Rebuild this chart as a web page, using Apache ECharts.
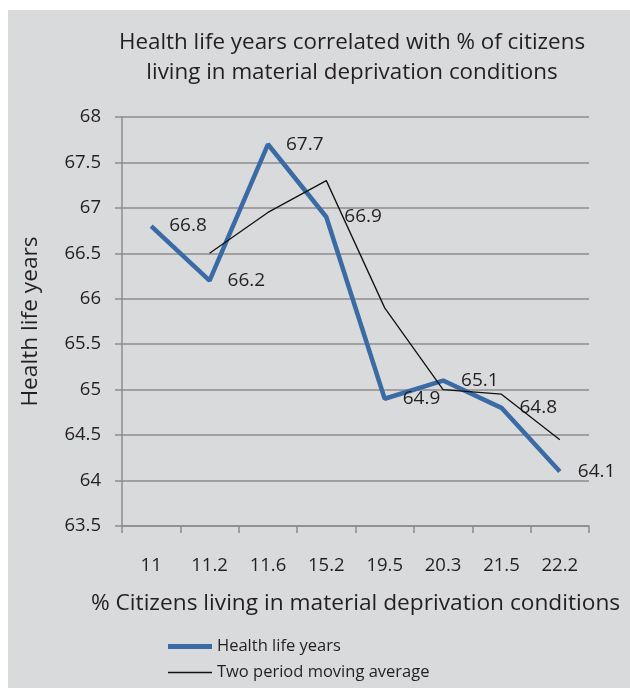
<!DOCTYPE html>
<html>
<head>
<meta charset="utf-8">
<script src="https://cdn.jsdelivr.net/npm/echarts@6/dist/echarts.min.js"></script>
<style>
html,body{margin:0;padding:0;background:#fff;}
#c{position:absolute;left:8px;top:10px;width:622px;height:678px;background:#d9dadc;}
</style>
</head>
<body>
<div id="c"></div>
<script>
var categories = ['11','11.2','11.6','15.2','19.5','20.3','21.5','22.2'];
var healthLifeYears = [66.8,66.2,67.7,66.9,64.9,65.1,64.8,64.1];
var movingAverage = ['-',66.5,66.95,67.3,65.9,65.0,64.95,64.45];
var FONT = 'Open Sans';
var chart = echarts.init(document.getElementById('c'));
chart.setOption({
  animation:false,
  backgroundColor:'#d9dadc',
  textStyle:{fontFamily:FONT},
  title:{
    text:'Health life years correlated with % of citizens\nliving in material deprivation conditions',
    left:339, top:13, textAlign:'center',
    textStyle:{fontFamily:FONT,fontSize:22.4,fontWeight:'normal',color:'#231f20',lineHeight:30}
  },
  legend:[{
    left:155, top:623, orient:'vertical', icon:'rect', itemWidth:44, itemHeight:5,
    data:['Health life years'],
    textStyle:{fontFamily:FONT,fontSize:16.5,color:'#231f20'}
  },{
    left:155, top:649, orient:'vertical', icon:'rect', itemWidth:44, itemHeight:1.5,
    data:['Two period moving average'],
    textStyle:{fontFamily:FONT,fontSize:16.5,color:'#231f20'}
  }],
  grid:{left:114,right:41,top:107,bottom:162},
  xAxis:{
    type:'category', data:categories, boundaryGap:true,
    name:'% Citizens living in material deprivation conditions',
    nameLocation:'middle', nameGap:66,
    nameTextStyle:{fontFamily:FONT,fontSize:22.7,color:'#231f20'},
    axisLine:{lineStyle:{color:'#8c8c8c',width:1.5}},
    axisTick:{show:true,length:7,lineStyle:{color:'#8c8c8c',width:1.5}},
    axisLabel:{margin:30,fontFamily:FONT,fontSize:18.5,color:'#231f20'}
  },
  yAxis:{
    type:'value', min:63.5, max:68, interval:0.5,
    name:'Health life years', nameLocation:'middle', nameGap:80,
    nameTextStyle:{fontFamily:FONT,fontSize:22.7,color:'#231f20'},
    axisLine:{show:true,lineStyle:{color:'#8c8c8c',width:1.5}},
    axisTick:{show:true,length:7,lineStyle:{color:'#8c8c8c',width:1.5}},
    axisLabel:{margin:21,fontFamily:FONT,fontSize:18.5,color:'#231f20'},
    splitLine:{lineStyle:{color:'#8c8c8c',width:1.5}}
  },
  series:[{
    name:'Health life years', type:'line', data:healthLifeYears,
    symbol:'circle', symbolSize:0.1, showSymbol:true,
    lineStyle:{color:'#3b6ba5',width:4.5}, itemStyle:{color:'#3b6ba5'},
    label:{show:true,position:'right',distance:18,fontFamily:FONT,fontSize:19,color:'#231f20'},
    z:3
  },{
    name:'Two period moving average', type:'line', data:movingAverage,
    symbol:'none', connectNulls:false,
    lineStyle:{color:'#111',width:1.3}, itemStyle:{color:'#111'},
    z:4
  }]
});
</script>
</body>
</html>
